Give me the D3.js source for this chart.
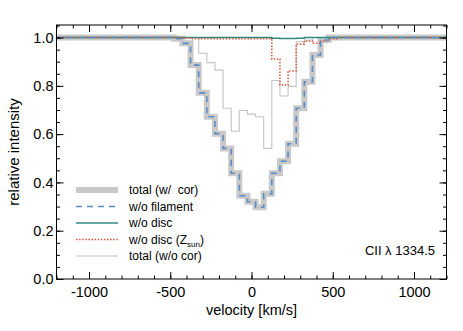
<!DOCTYPE html>
<html>
<head>
<meta charset="utf-8">
<script src="https://cdn.jsdelivr.net/npm/d3@7"></script>
<style>
  html, body { margin: 0; padding: 0; background: #fff; }
  svg { display: block; font-family: "Liberation Sans", Arial, Helvetica, sans-serif; }
</style>
</head>
<body>
<svg id="chart" width="463" height="331"></svg>
<script>
// velocity bin centres (km/s); the two outer points carry the flat continuum
const vel      = [-1200, -500, -450, -400, -350, -300, -250, -200, -150, -100, -50, 0, 50, 100, 150, 200, 250, 300, 350, 400, 450, 500, 550, 1200];
const totalCor = [1, 1, 0.995, 0.976, 0.886, 0.771, 0.672, 0.602, 0.541, 0.438, 0.345, 0.32, 0.297, 0.353, 0.438, 0.488, 0.56, 0.707, 0.817, 0.928, 0.99, 1, 1, 1];
const noFil    = [1, 1, 0.995, 0.976, 0.886, 0.771, 0.672, 0.602, 0.541, 0.438, 0.345, 0.32, 0.297, 0.353, 0.438, 0.488, 0.56, 0.707, 0.817, 0.928, 0.99, 1, 1, 1];
const noDisc   = [1, 1, 1, 1, 1, 1, 1, 1, 1, 1, 1, 1, 1, 1, 0.997, 0.996, 0.996, 0.997, 1, 1, 1, 1, 1, 1];
const noDiscZ  = [1, 1, 1, 0.997, 0.995, 0.995, 0.995, 0.995, 0.995, 0.995, 0.995, 0.995, 0.995, 0.995, 0.911, 0.803, 0.862, 0.972, 0.986, 0.976, 0.986, 0.995, 1, 1];
const totalRaw = [1, 1, 1, 1, 1, 0.935, 0.896, 0.865, 0.707, 0.612, 0.698, 0.683, 0.672, 0.541, 0.822, 0.758, 0.798, 0.982, 0.99, 1, 1, 1, 1, 1];

const xMajor = [-1000, -500, 0, 500, 1000];
const xLabels = ['-1000', '-500', '0', '500', '1000'];
const yMajor = [0, 0.2, 0.4, 0.6, 0.8, 1.0];
const yLabels = ['0.0', '0.2', '0.4', '0.6', '0.8', '1.0'];

const series = [
  { key: 'total (w/  cor)', values: totalCor, color: '#c9c9c9', width: 6, dash: null },
  { key: 'w/o filament',    values: noFil,    color: '#5b8cc4', width: 1.6, dash: '6,5' },
  { key: 'w/o disc',        values: noDisc,   color: '#2f8a80', width: 1.5, dash: null },
  { key: 'w/o disc (Zsun)', values: noDiscZ,  color: '#d9553a', width: 1.5, dash: '1.5,1.6' },
  { key: 'total (w/o cor)', values: totalRaw, color: '#c4c4c4', width: 1.1, dash: null }
];

const svg = d3.select('#chart');
const m = { top: 25, right: 16.5, bottom: 52, left: 56.5 };
const W = 463, H = 331;
const w = W - m.left - m.right;
const h = H - m.top - m.bottom;

const x = d3.scaleLinear().domain([-1200, 1200]).range([0, w]);
const y = d3.scaleLinear().domain([0, 1.052]).range([h, 0]);

const g = svg.append('g').attr('transform', `translate(${m.left},${m.top})`);

const clip = svg.append('defs').append('clipPath').attr('id', 'plot-clip');
clip.append('rect').attr('width', w).attr('height', h);

// curves
const plot = g.append('g').attr('clip-path', 'url(#plot-clip)');
const line = d3.line().x(d => x(d[0])).y(d => y(d[1])).curve(d3.curveStep);
// draw order: thick total, thin total, disc, Zsun, filament dashes on top
[0, 4, 2, 3, 1].forEach(i => {
  const s = series[i];
  plot.append('path')
    .datum(vel.map((v, j) => [v, s.values[j]]))
    .attr('fill', 'none')
    .attr('stroke', s.color)
    .attr('stroke-width', s.width)
    .attr('stroke-dasharray', s.dash)
    .attr('d', line);
});

// axes, ticks inward on all four sides
const fmtNone = () => '';
function styleAxis(sel) {
  sel.select('.domain').remove();
  sel.selectAll('line').attr('stroke', '#000').attr('stroke-width', 1);
  sel.selectAll('text').attr('fill', '#000').attr('font-size', 14.5);
}
const xMinor = d3.range(-1200, 1201, 100);
const yMinor = d3.range(0, 1.051, 0.05);

g.append('g').attr('transform', `translate(0,${h})`)
  .call(d3.axisBottom(x).tickValues(xMinor).tickSize(-3.5).tickFormat(fmtNone)).call(styleAxis);
g.append('g').attr('transform', `translate(0,${h})`)
  .call(d3.axisBottom(x).tickValues(xMajor).tickSize(-7).tickPadding(8)
    .tickFormat((d, i) => xLabels[i])).call(styleAxis);
g.append('g')
  .call(d3.axisTop(x).tickValues(xMinor).tickSize(-3.5).tickFormat(fmtNone)).call(styleAxis);
g.append('g')
  .call(d3.axisTop(x).tickValues(xMajor).tickSize(-7).tickFormat(fmtNone)).call(styleAxis);

g.append('g')
  .call(d3.axisLeft(y).tickValues(yMinor).tickSize(-3.5).tickFormat(fmtNone)).call(styleAxis);
g.append('g')
  .call(d3.axisLeft(y).tickValues(yMajor).tickSize(-7).tickPadding(3)
    .tickFormat((d, i) => yLabels[i])).call(styleAxis);
g.append('g').attr('transform', `translate(${w},0)`)
  .call(d3.axisRight(y).tickValues(yMinor).tickSize(-3.5).tickFormat(fmtNone)).call(styleAxis);
g.append('g').attr('transform', `translate(${w},0)`)
  .call(d3.axisRight(y).tickValues(yMajor).tickSize(-7).tickFormat(fmtNone)).call(styleAxis);

g.append('rect').attr('width', w).attr('height', h)
  .attr('fill', 'none').attr('stroke', '#000').attr('stroke-width', 1);

// axis titles
g.append('text')
  .attr('x', x(0)).attr('y', h + 35.5)
  .attr('text-anchor', 'middle').attr('font-size', 14.5).attr('fill', '#000')
  .text('velocity [km/s]');
g.append('text')
  .attr('transform', `translate(${13.5 - m.left},${h / 2}) rotate(-90)`)
  .attr('text-anchor', 'middle').attr('dy', '0.35em').attr('font-size', 15).attr('fill', '#000')
  .text('relative intensity');

// line annotation
g.append('text')
  .attr('x', w - 11.5).attr('y', 230)
  .attr('text-anchor', 'end').attr('font-size', 13).attr('fill', '#000')
  .text('CII λ 1334.5');

// legend
const leg = g.append('g').attr('transform', `translate(${76 - m.left},${190 - m.top})`);
series.forEach((s, i) => {
  const row = leg.append('g').attr('transform', `translate(0,${i * 16.5})`);
  row.append('line').attr('x1', 0).attr('x2', 42).attr('y1', 0).attr('y2', 0)
    .attr('stroke', s.color).attr('stroke-width', s.width)
    .attr('stroke-dasharray', s.dash);
  const t = row.append('text').attr('x', 53).attr('dy', '0.35em')
    .attr('font-size', 12).attr('fill', '#000').style('white-space', 'pre');
  if (s.key === 'w/o disc (Zsun)') {
    t.append('tspan').text('w/o disc (Z');
    t.append('tspan').attr('font-size', 8).attr('dy', 3).text('sun');
    t.append('tspan').attr('dy', -3).text(')');
  } else {
    t.text(s.key);
  }
});
</script>
</body>
</html>
